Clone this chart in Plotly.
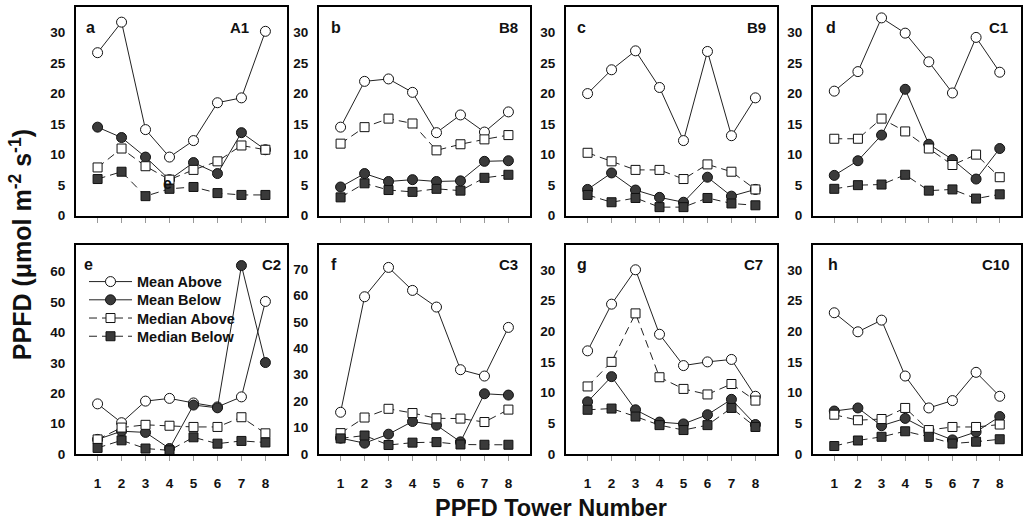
import plotly.graph_objects as go

# ---------------- data ----------------
towers = [1, 2, 3, 4, 5, 6, 7, 8]
tower_labels = ["1", "2", "3", "4", "5", "6", "7", "8"]
panel_names = ["A1", "B8", "B9", "C1", "C2", "C3", "C7", "C10"]
panel_letters = ["a", "b", "c", "d", "e", "f", "g", "h"]
series_names = ["Mean Above", "Mean Below", "Median Above", "Median Below"]

mean_above_A1 = [26.7, 31.7, 14.1, 9.6, 12.3, 18.5, 19.3, 30.2]
mean_below_A1 = [14.5, 12.8, 9.6, 5.9, 8.7, 6.9, 13.6, 10.8]
median_above_A1 = [7.9, 11.0, 8.1, 5.9, 7.5, 8.9, 11.5, 10.8]
median_below_A1 = [6.0, 7.2, 3.2, 4.4, 4.7, 3.7, 3.4, 3.4]

mean_above_B8 = [14.5, 22.0, 22.4, 20.2, 13.6, 16.5, 13.7, 17.0]
mean_below_B8 = [4.7, 6.9, 5.6, 5.9, 5.6, 5.7, 8.9, 9.0]
median_above_B8 = [11.8, 14.5, 15.9, 15.1, 10.7, 11.7, 12.5, 13.2]
median_below_B8 = [3.0, 5.3, 4.2, 3.9, 4.4, 4.1, 6.2, 6.7]

mean_above_B9 = [20.0, 23.9, 27.0, 21.0, 12.3, 26.9, 13.1, 19.3]
mean_below_B9 = [4.3, 7.0, 4.2, 3.0, 2.2, 6.3, 3.2, 4.3]
median_above_B9 = [10.3, 8.9, 7.5, 7.5, 6.0, 8.4, 7.2, 4.3]
median_below_B9 = [3.4, 2.2, 2.9, 1.4, 1.4, 2.9, 2.0, 1.7]

mean_above_C1 = [20.4, 23.6, 32.4, 29.9, 25.2, 20.1, 29.2, 23.5]
mean_below_C1 = [6.6, 9.0, 13.2, 20.7, 11.7, 9.2, 6.0, 11.0]
median_above_C1 = [12.6, 12.6, 15.9, 13.8, 11.0, 8.3, 10.0, 6.3]
median_below_C1 = [4.4, 5.0, 5.1, 6.7, 4.1, 4.3, 2.8, 3.5]

mean_above_C2 = [16.5, 10.3, 17.4, 18.3, 16.8, 15.5, 18.8, 50.2]
mean_below_C2 = [4.8, 7.5, 7.1, 1.8, 16.1, 15.2, 62.0, 30.1]
median_above_C2 = [4.8, 8.7, 9.6, 9.3, 8.9, 8.9, 12.1, 6.8]
median_below_C2 = [2.0, 4.5, 1.8, 1.2, 5.5, 3.4, 4.3, 3.8]

mean_above_C3 = [15.8, 59.5, 70.6, 61.9, 55.6, 31.9, 29.5, 47.9]
mean_below_C3 = [6.0, 4.1, 7.5, 12.3, 10.9, 4.6, 22.8, 22.3]
median_above_C3 = [7.9, 13.8, 17.1, 15.5, 13.5, 13.4, 12.1, 16.8]
median_below_C3 = [5.9, 7.0, 3.4, 4.3, 4.5, 3.6, 3.5, 3.5]

mean_above_C7 = [16.8, 24.4, 30.0, 19.5, 14.4, 15.0, 15.4, 9.4]
mean_below_C7 = [8.5, 12.6, 7.2, 5.2, 4.9, 6.4, 8.9, 4.8]
median_above_C7 = [11.0, 15.0, 22.9, 12.5, 10.6, 9.7, 11.4, 8.7]
median_below_C7 = [7.2, 7.4, 6.1, 4.7, 3.9, 4.7, 7.5, 4.4]

mean_above_C10 = [23.0, 19.9, 21.8, 12.7, 7.5, 8.7, 13.3, 9.4]
mean_below_C10 = [7.0, 7.5, 4.6, 5.8, 3.8, 2.3, 3.6, 6.1]
median_above_C10 = [6.4, 5.5, 5.7, 7.5, 3.9, 4.4, 4.4, 4.8]
median_below_C10 = [1.3, 2.2, 2.8, 3.7, 2.8, 1.7, 2.0, 2.4]

panel_data = [
    [mean_above_A1, mean_below_A1, median_above_A1, median_below_A1],
    [mean_above_B8, mean_below_B8, median_above_B8, median_below_B8],
    [mean_above_B9, mean_below_B9, median_above_B9, median_below_B9],
    [mean_above_C1, mean_below_C1, median_above_C1, median_below_C1],
    [mean_above_C2, mean_below_C2, median_above_C2, median_below_C2],
    [mean_above_C3, mean_below_C3, median_above_C3, median_below_C3],
    [mean_above_C7, mean_below_C7, median_above_C7, median_below_C7],
    [mean_above_C10, mean_below_C10, median_above_C10, median_below_C10],
]

y_max = [34.2, 34.2, 34.2, 34.2, 68.7, 79.0, 34.0, 34.0]
y_step = [5, 5, 5, 5, 10, 10, 5, 5]

# ---------------- styles ----------------
W, H = 1023, 527
col_px = [(76, 287), (319, 530), (566, 777), (813, 1021)]
row_px = [(7, 219), (249, 461)]
name_right_px = [251, 520, 768, 1010, 283, 520, 765, 1012]
letter_left_px = [84, 329, 575, 824, 82, 329, 575, 826]
label_y_px = [28, 269]
legend_row_px = [286, 304.5, 323, 341.5]
legend_ids = ["legend", "legend2", "legend3", "legend4"]

dark = "#3a3a3a"
styles = [
    dict(symbol="circle", fill="white", dash="solid", size=10),
    dict(symbol="circle", fill=dark, dash="solid", size=10),
    dict(symbol="square", fill="white", dash="8px,5px", size=9),
    dict(symbol="square", fill=dark, dash="8px,5px", size=9),
]

FONT = "Liberation Sans, Arial, sans-serif"

fig = go.Figure()
layout = dict(
    width=W, height=H,
    margin=dict(l=0, r=0, t=0, b=0),
    paper_bgcolor="white", plot_bgcolor="white",
    font=dict(family=FONT, color="#111"),
    showlegend=True,
)
annotations = []

for i in range(8):
    r, c = divmod(i, 4)
    xl, xr = col_px[c]
    yt, yb = row_px[r]
    sfx = "" if i == 0 else str(i + 1)
    xa, ya = "x" + sfx, "y" + sfx
    layout["xaxis" + sfx] = dict(
        domain=[xl / W, xr / W], anchor=ya, range=[0.1, 8.9],
        tickvals=towers, ticktext=tower_labels,
        showticklabels=(r == 1), ticks="outside", ticklen=5, tickwidth=1,
        tickcolor="#999", ticklabelstandoff=11,
        tickfont=dict(family=FONT, size=13.5, color="#111", weight="bold"),
        showline=True, mirror=True, linecolor="black", linewidth=2,
        showgrid=False, zeroline=False, fixedrange=True,
    )
    layout["yaxis" + sfx] = dict(
        domain=[1 - yb / H, 1 - yt / H], anchor=xa, range=[0, y_max[i]],
        dtick=y_step[i], tick0=0, ticks="", ticklabelstandoff=6,
        tickfont=dict(family=FONT, size=13.5, color="#111", weight="bold"),
        showline=True, mirror=True, linecolor="black", linewidth=2,
        showgrid=False, zeroline=False, fixedrange=True,
    )
    for s, vals in enumerate(panel_data[i]):
        st = styles[s]
        fig.add_trace(go.Scatter(
            x=towers, y=vals, xaxis=xa, yaxis=ya, mode="lines+markers",
            name=series_names[s], showlegend=(i == 4), legend=legend_ids[s],
            line=dict(color="#222", width=1, dash=st["dash"]),
            marker=dict(symbol=st["symbol"], size=st["size"], color=st["fill"],
                        line=dict(color="#111", width=1)),
            cliponaxis=False,
        ))
    annotations.append(dict(
        text="<b>%s</b>" % panel_letters[i], xref="paper", yref="paper",
        x=letter_left_px[i] / W, y=1 - label_y_px[r] / H, xanchor="left", yanchor="middle",
        showarrow=False, font=dict(family=FONT, size=16, color="#111"),
    ))
    annotations.append(dict(
        text="<b>%s</b>" % panel_names[i], xref="paper", yref="paper",
        x=name_right_px[i] / W, y=1 - label_y_px[r] / H, xanchor="right", yanchor="middle",
        showarrow=False, font=dict(family=FONT, size=15, color="#111"),
    ))

# stray letter visible in the reference inside panel a
annotations.append(dict(
    text="<b>e</b>", xref="paper", yref="paper",
    x=167 / W, y=1 - 186 / H, xanchor="center", yanchor="middle",
    showarrow=False, font=dict(family=FONT, size=16, color="#111"),
))

annotations.append(dict(
    text="<b>PPFD (\u03bcmol m<sup>-2</sup> s<sup>-1</sup>)</b>", xref="paper", yref="paper",
    x=21 / W, y=1 - 249 / H, xanchor="center", yanchor="middle", textangle=-90,
    showarrow=False, font=dict(family=FONT, size=25, color="#111"),
))
annotations.append(dict(
    text="<b>PPFD Tower Number</b>", xref="paper", yref="paper",
    x=551 / W, y=1 - 516 / H, xanchor="center", yanchor="middle",
    showarrow=False, font=dict(family=FONT, size=23.5, color="#111"),
))

layout["annotations"] = annotations
for k, lid in enumerate(legend_ids):
    layout[lid] = dict(
        x=84 / W, y=1 - legend_row_px[k] / H, xanchor="left", yanchor="middle",
        bgcolor="rgba(0,0,0,0)", borderwidth=0, itemwidth=43,
        font=dict(family=FONT, size=14.5, color="#111", weight="bold"),
        tracegroupgap=0, itemclick=False, itemdoubleclick=False,
    )
fig.update_layout(**layout)
fig.write_html("out.html", config={"displayModeBar": False})
